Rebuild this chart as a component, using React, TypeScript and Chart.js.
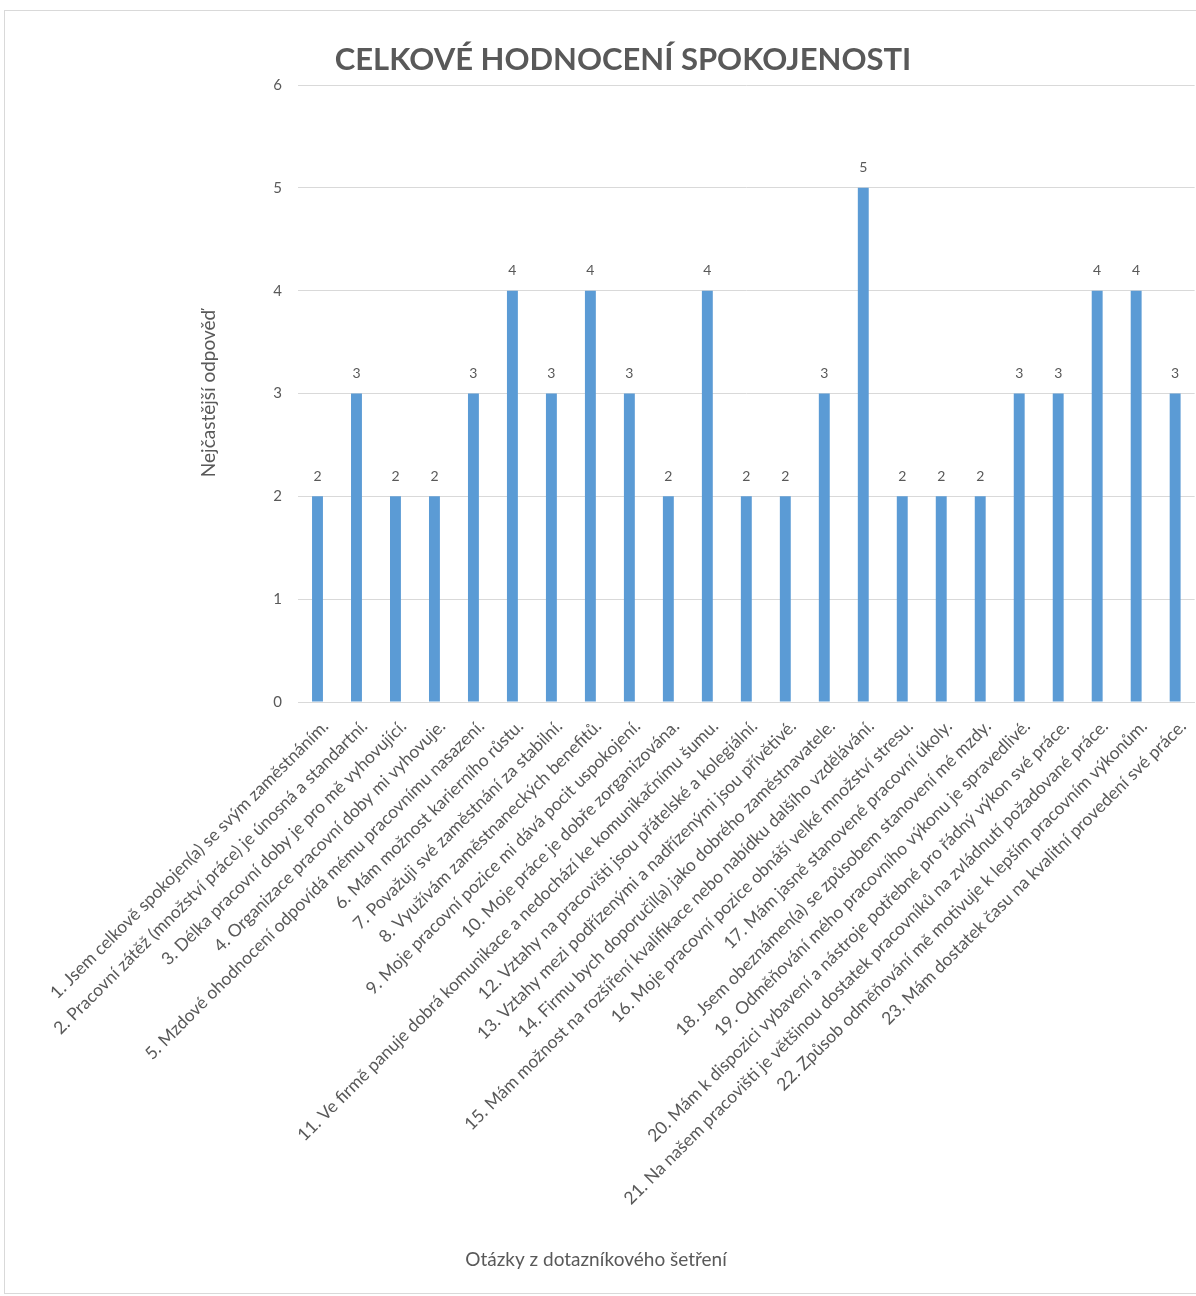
import React, { useEffect, useRef } from "react";
import { Chart, registerables } from "chart.js";

Chart.register(...registerables);

const chartTitle = "CELKOVÉ HODNOCENÍ SPOKOJENOSTI";
const xAxisTitle = "Otázky z dotazníkového šetření";
const yAxisTitle = "Nejčastější odpověď";

const categories = [
  "1. Jsem celkově spokojen(a) se svým zaměstnáním.",
  "2. Pracovní zátěž (množství práce) je únosná a standartní.",
  "3. Délka pracovní doby je pro mě vyhovující.",
  "4. Organizace pracovní doby mi vyhovuje.",
  "5. Mzdové ohodnocení odpovídá mému pracovnímu nasazení.",
  "6. Mám možnost karierního růstu.",
  "7. Považuji své zaměstnání za stabilní.",
  "8. Využívám zaměstnaneckých benefitů.",
  "9. Moje pracovní pozice mi dává pocit uspokojení.",
  "10. Moje práce je dobře zorganizována.",
  "11. Ve firmě panuje dobrá komunikace a nedochází ke komunikačnímu šumu.",
  "12. Vztahy na pracovišti jsou přátelské a kolegiální.",
  "13. Vztahy mezi podřízenými a nadřízenými jsou přívětivé.",
  "14. Firmu bych doporučil(a) jako dobrého zaměstnavatele.",
  "15. Mám možnost na rozšíření kvalifikace nebo nabídku dalšího vzdělávání.",
  "16. Moje pracovní pozice obnáší velké množství stresu.",
  "17. Mám jasně stanovené pracovní úkoly.",
  "18. Jsem obeznámen(a) se způsobem stanovení mé mzdy.",
  "19. Odměňování mého pracovního výkonu je spravedlivé.",
  "20. Mám k dispozici vybavení a nástroje potřebné pro řádný výkon své práce.",
  "21. Na našem pracovišti je většinou dostatek pracovníků na zvládnutí požadované práce.",
  "22. Způsob odměňování mě motivuje k lepším pracovním výkonům.",
  "23. Mám dostatek času na kvalitní provedení své práce.",
];

const values = [2, 3, 2, 2, 3, 4, 3, 4, 3, 2, 4, 2, 2, 3, 5, 2, 2, 2, 3, 3, 4, 4, 3];

const yMin = 0;
const yMax = 6;
const yStep = 1;

const TEXT = "#595959";
const GRID = "#d9d9d9";
const BAR = "#5b9bd5";
const FONT = "Lato, 'Open Sans', sans-serif";

const CANVAS_W = 1204;
const CANVAS_H = 1296;

const valueLabelPlugin = {
  id: "valueLabels",
  afterDatasetsDraw(chart: any) {
    const ctx = chart.ctx;
    ctx.save();
    ctx.fillStyle = TEXT;
    ctx.font = `14px ${FONT}`;
    ctx.textAlign = "center";
    ctx.textBaseline = "middle";
    chart.data.datasets.forEach((ds: any, di: number) => {
      const meta = chart.getDatasetMeta(di);
      meta.data.forEach((el: any, i: number) => {
        ctx.fillText(String(ds.data[i]), el.x, el.y - 20);
      });
    });
    ctx.restore();
  },
};

const titlesPlugin = {
  id: "titlesPlugin",
  afterDraw(chart: any, _args: any, opts: any) {
    const ctx = chart.ctx;
    ctx.save();
    ctx.fillStyle = TEXT;
    ctx.textAlign = "center";
    ctx.textBaseline = "middle";
    ctx.font = `bold 31px ${FONT}`;
    ctx.fillText(opts.title, opts.titleX, opts.titleY);
    ctx.font = `19px ${FONT}`;
    ctx.fillText(opts.xTitle, opts.xTitleX, opts.xTitleY);
    ctx.restore();
  },
};

export default function App() {
  const canvasRef = useRef<HTMLCanvasElement | null>(null);

  useEffect(() => {
    if (!canvasRef.current) return;
    const chart = new Chart(canvasRef.current, {
      type: "bar",
      data: {
        labels: categories,
        datasets: [
          {
            data: values,
            backgroundColor: BAR,
            borderWidth: 0,
            barPercentage: 0.28,
            categoryPercentage: 1,
          },
        ],
      },
      options: {
        animation: false,
        responsive: false,
        maintainAspectRatio: false,
        layout: {
          autoPadding: false,
          padding: { left: 0, right: -2, top: 85, bottom: 0 },
        },
        plugins: {
          legend: { display: false },
          tooltip: { enabled: false },
          titlesPlugin: {
            title: chartTitle,
            titleX: 623,
            titleY: 60,
            xTitle: xAxisTitle,
            xTitleX: 596,
            xTitleY: 1260,
          },
        } as any,
        scales: {
          x: {
            grid: { display: false, drawTicks: false },
            border: { display: true, color: GRID, width: 1 },
            ticks: {
              autoSkip: false,
              minRotation: 45,
              maxRotation: 45,
              padding: 14,
              labelOffset: 8,
              color: TEXT,
              font: { family: FONT, size: 17.5 },
            },
            afterFit: (scale: any) => {
              scale.height = CANVAS_H - 702;
            },
          },
          y: {
            min: yMin,
            max: yMax,
            grid: { color: GRID, drawTicks: false, lineWidth: 1 },
            border: { display: false },
            ticks: {
              stepSize: yStep,
              padding: 16,
              color: TEXT,
              font: { family: FONT, size: 15 },
            },
            title: {
              display: true,
              text: yAxisTitle,
              color: TEXT,
              font: { family: FONT, size: 19 },
              padding: { top: 197, bottom: 0 },
            },
            afterFit: (scale: any) => {
              scale.width = 298;
            },
          },
        },
      },
      plugins: [valueLabelPlugin, titlesPlugin],
    });
    return () => chart.destroy();
  }, []);

  return (
    <div
      style={{
        position: "fixed",
        left: 0,
        top: 0,
        width: 1196,
        height: 1296,
        overflow: "hidden",
        background: "#fff",
      }}
    >
      <div
        style={{
          position: "absolute",
          left: 4,
          top: 10,
          width: 1300,
          height: 1282,
          borderLeft: `1px solid ${GRID}`,
          borderTop: `1px solid ${GRID}`,
          borderBottom: `1px solid ${GRID}`,
        }}
      />
      <canvas
        ref={canvasRef}
        width={CANVAS_W}
        height={CANVAS_H}
        style={{ position: "absolute", left: 0, top: 0, width: CANVAS_W, height: CANVAS_H }}
      />
    </div>
  );
}
